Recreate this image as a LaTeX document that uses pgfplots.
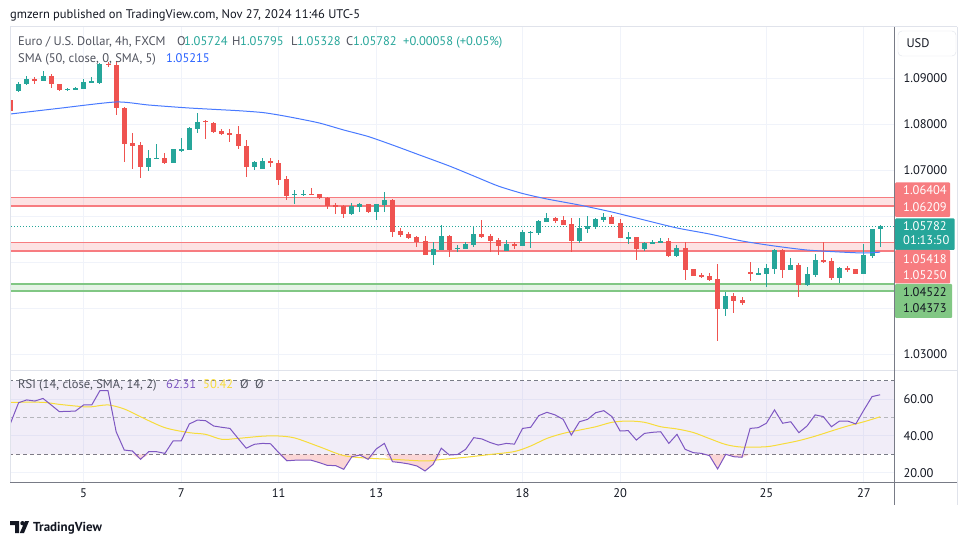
\documentclass[border=0pt]{standalone}
\usepackage{fontspec}
\setmainfont{PT Sans}
\usepackage{pgfplots}
\usepackage{pgfplotstable}
\pgfplotsset{compat=1.18}

\definecolor{tvgreen}{HTML}{26A69A}
\definecolor{tvred}{HTML}{EF5350}
\definecolor{tvblue}{HTML}{2962FF}
\definecolor{zonered}{HTML}{F77C80}
\definecolor{zonegreen}{HTML}{81C784}
\definecolor{rsipurple}{HTML}{7E57C2}
\definecolor{rsiyellow}{HTML}{F7DC3A}
\definecolor{rsired}{HTML}{F48A8A}
\definecolor{gridc}{HTML}{F0F3FA}
\definecolor{framec}{HTML}{E0E3EB}
\definecolor{axisc}{HTML}{787B86}
\definecolor{txt}{HTML}{131722}
\definecolor{txtgray}{HTML}{50535E}

\newcommand{\tvf}{\fontsize{12.5}{14}\selectfont}

\pgfplotstableread{
i up o h l c
0 0 1.08522 1.08522 1.08283 1.08283
1 1 1.08718 1.08913 1.08696 1.08870
2 1 1.08870 1.09044 1.08848 1.08979
3 0 1.08979 1.09022 1.08870 1.08935
4 1 1.08935 1.09153 1.08935 1.09044
5 0 1.09044 1.09087 1.08783 1.08870
6 0 1.08870 1.08870 1.08718 1.08740
7 1 1.08740 1.08783 1.08718 1.08761
8 1 1.08761 1.08805 1.08740 1.08783
9 1 1.08761 1.08979 1.08761 1.08913
10 1 1.08913 1.09022 1.08913 1.08935
11 1 1.08892 1.09326 1.08870 1.09305
12 0 1.09305 1.09348 1.09240 1.09283
13 0 1.09283 1.09370 1.08196 1.08348
14 0 1.08348 1.08370 1.07174 1.07566
15 0 1.07587 1.07805 1.07022 1.07522
16 0 1.07544 1.07609 1.06826 1.07066
17 1 1.07066 1.07435 1.06979 1.07261
18 1 1.07240 1.07566 1.07240 1.07261
19 0 1.07261 1.07370 1.07131 1.07153
20 1 1.07153 1.07457 1.07153 1.07457
21 1 1.07435 1.07696 1.07392 1.07457
22 1 1.07435 1.07935 1.07435 1.07913
23 1 1.07892 1.08240 1.07805 1.08044
24 0 1.08066 1.08087 1.07674 1.08044
25 0 1.08022 1.08044 1.07805 1.07827
26 0 1.07848 1.07892 1.07761 1.07783
27 0 1.07805 1.07892 1.07609 1.07761
28 0 1.07783 1.07957 1.07457 1.07522
29 0 1.07522 1.07653 1.06848 1.07066
30 1 1.07066 1.07196 1.07000 1.07174
31 1 1.07022 1.07261 1.07022 1.07196
32 0 1.07196 1.07261 1.07066 1.07153
33 0 1.07153 1.07218 1.06674 1.06783
34 0 1.06805 1.06870 1.06348 1.06435
35 1 1.06457 1.06566 1.06261 1.06479
36 1 1.06457 1.06566 1.06435 1.06479
37 0 1.06479 1.06609 1.06457 1.06457
38 0 1.06479 1.06479 1.06370 1.06391
39 0 1.06391 1.06413 1.06153 1.06218
40 0 1.06239 1.06283 1.06044 1.06196
41 0 1.06218 1.06239 1.05957 1.06044
42 1 1.06044 1.06283 1.06022 1.06218
43 1 1.06196 1.06283 1.06087 1.06261
44 0 1.06261 1.06261 1.06066 1.06087
45 1 1.06087 1.06261 1.05913 1.06261
46 1 1.06239 1.06522 1.06087 1.06348
47 0 1.06348 1.06370 1.05544 1.05653
48 0 1.05674 1.05740 1.05544 1.05587
49 0 1.05609 1.05653 1.05500 1.05522
50 0 1.05544 1.05566 1.05326 1.05435
51 0 1.05457 1.05566 1.05153 1.05153
52 1 1.05153 1.05435 1.04935 1.05283
53 1 1.05261 1.05805 1.05261 1.05566
54 0 1.05566 1.05587 1.05109 1.05261
55 1 1.05283 1.05370 1.05218 1.05305
56 1 1.05283 1.05435 1.05283 1.05392
57 1 1.05370 1.05783 1.05326 1.05609
58 0 1.05609 1.05913 1.05522 1.05544
59 0 1.05566 1.05609 1.05218 1.05457
60 0 1.05479 1.05522 1.05153 1.05348
61 1 1.05240 1.05479 1.05240 1.05392
62 0 1.05392 1.05435 1.05283 1.05348
63 1 1.05348 1.05696 1.05348 1.05653
64 1 1.05631 1.05674 1.05305 1.05653
65 1 1.05631 1.05913 1.05587 1.05892
66 1 1.05870 1.06066 1.05870 1.05957
67 0 1.05957 1.05979 1.05848 1.05892
68 0 1.05913 1.06000 1.05805 1.05805
69 0 1.05827 1.05957 1.05218 1.05457
70 1 1.05457 1.05957 1.05413 1.05740
71 1 1.05718 1.06000 1.05631 1.05783
72 1 1.05761 1.05957 1.05718 1.05935
73 1 1.05913 1.06066 1.05870 1.05979
74 0 1.05979 1.06022 1.05827 1.05827
75 0 1.05848 1.05935 1.05522 1.05522
76 1 1.05522 1.05653 1.05392 1.05544
77 0 1.05544 1.05544 1.05044 1.05283
78 1 1.05283 1.05435 1.05240 1.05413
79 1 1.05392 1.05479 1.05392 1.05435
80 1 1.05435 1.05522 1.05435 1.05457
81 0 1.05457 1.05522 1.05109 1.05131
82 1 1.05131 1.05370 1.05109 1.05305
83 0 1.05305 1.05435 1.04609 1.04826
84 0 1.04848 1.04848 1.04696 1.04696
85 0 1.04718 1.04761 1.04652 1.04674
86 0 1.04696 1.04761 1.04587 1.04609
87 0 1.04631 1.04957 1.03283 1.03979
88 1 1.03979 1.04348 1.03826 1.04261
89 0 1.04261 1.04326 1.03892 1.04152
90 0 1.04174 1.04239 1.04065 1.04109
91 0 1.04783 1.05000 1.04587 1.04761
92 1 1.04740 1.04870 1.04718 1.04761
93 1 1.04740 1.04957 1.04457 1.04870
94 1 1.04848 1.05283 1.04740 1.05261
95 0 1.05261 1.05283 1.04652 1.04826
96 1 1.04826 1.05087 1.04826 1.04935
97 0 1.04935 1.04979 1.04239 1.04500
98 1 1.04500 1.04892 1.04479 1.04740
99 1 1.04718 1.05174 1.04674 1.05044
100 0 1.05044 1.05435 1.04979 1.05000
101 0 1.05022 1.05087 1.04609 1.04652
102 1 1.04652 1.04892 1.04544 1.04870
103 0 1.04870 1.04913 1.04783 1.04848
104 0 1.04848 1.04848 1.04740 1.04740
105 1 1.04740 1.05392 1.04740 1.05153
106 1 1.05131 1.05718 1.05087 1.05718
107 1 1.05724 1.05795 1.05328 1.05782
}\candles

\pgfplotstableread{
i s
0 1.08218
6 1.08342
13 1.08479
17 1.08413
22 1.08348
28 1.08290
31 1.08250
33 1.08196
35 1.08131
38 1.08022
41 1.07870
44 1.07729
47 1.07544
50 1.07348
54 1.07087
57 1.06870
60 1.06652
63 1.06490
66 1.06370
70 1.06239
74 1.06087
78 1.05913
82 1.05740
86 1.05609
90 1.05457
94 1.05348
98 1.05261
102 1.05218
105 1.05196
107 1.05215
}\smadata

\pgfplotstableread{
i r
0 46.9
1 58.0
2 59.5
3 58.9
4 60.3
5 56.8
6 53.2
7 53.3
8 53.5
9 56.8
10 56.8
11 64.5
12 64.5
13 42.3
14 32.4
15 31.9
16 27.4
17 31.5
18 31.5
19 30.6
20 37.3
21 37.3
22 46.5
23 48.6
24 48.3
25 45.4
26 44.7
27 44.1
28 38.7
29 33.4
30 35.5
31 36.0
32 35.8
33 31.0
34 26.6
35 26.9
36 26.9
37 26.9
38 25.6
39 24.1
40 24.0
41 22.0
42 28.8
43 29.7
44 27.4
45 33.0
46 36.0
47 26.1
48 25.6
49 24.9
50 23.8
51 21.1
52 24.7
53 33.4
54 29.7
55 30.0
56 32.8
57 39.1
58 38.4
59 36.5
60 35.1
61 36.0
62 35.6
63 44.1
64 44.7
65 51.0
66 52.8
67 51.4
68 49.0
69 40.5
70 47.7
71 49.0
72 52.6
73 53.7
74 50.5
75 42.7
76 42.9
77 37.8
78 41.4
79 42.0
80 42.3
81 36.0
82 40.9
83 32.8
84 31.0
85 30.6
86 29.4
87 22.2
88 30.1
89 28.8
90 28.5
91 44.1
92 44.5
93 46.9
94 54.1
95 46.9
96 47.7
97 41.8
98 45.4
99 51.4
100 50.5
101 45.0
102 48.1
103 48.1
104 46.5
105 54.1
106 61.3
107 62.3
}\rsidata

\pgfplotstableread{
i m
0 58.2
4 58.2
6 57.1
9 55.8
10 55.8
12 56.8
14 54.6
16 50.4
19 44.5
22 41.8
24 40.9
26 38.2
28 38.7
31 39.9
33 40.0
35 38.9
38 34.2
41 29.4
44 28.0
47 27.4
51 26.5
53 27.3
56 28.5
59 30.0
62 31.6
64 34.6
66 38.7
68 41.4
70 43.2
72 45.0
74 47.4
76 48.1
78 47.4
80 45.0
82 43.8
84 41.9
86 38.6
88 35.4
90 34.0
93 34.2
95 35.7
97 37.5
99 39.9
101 42.7
103 45.4
105 47.7
107 50.4
}\rsimadata

\begin{document}
\begin{tikzpicture}
\path[use as bounding box, fill=white] (0pt,0pt) rectangle (970pt,-545pt);

% ---------------- main price pane ----------------
\begin{axis}[
  at={(10pt,-27pt)}, anchor=north west,
  scale only axis, width=884pt, height=344pt,
  xmin=-0.06, xmax=108.7, ymin=1.02631, ymax=1.10109,
  axis line style={draw=none},
  xtick={9,21,33,45,63,75,93,105}, xticklabels={},
  ytick={1.03,1.04,1.05,1.06,1.07,1.08,1.09},
  yticklabels={1.03000,,,,1.07000,1.08000,1.09000},
  yticklabel pos=right,
  yticklabel style={anchor=west, xshift=6pt, font=\tvf, color=txt},
  major tick length=0pt,
  grid=major, major grid style={draw=gridc, line width=1pt},
  clip mode=individual,
]
% zones
\addplot[draw=none, fill=zonered, fill opacity=0.22] coordinates {(-1,1.06209)(110,1.06209)(110,1.06404)(-1,1.06404)};
\addplot[zonered, line width=1.3pt] coordinates {(-1,1.06404)(110,1.06404)};
\addplot[zonered, line width=2pt] coordinates {(-1,1.06209)(110,1.06209)};
\addplot[draw=none, fill=zonered, fill opacity=0.22] coordinates {(-1,1.05250)(110,1.05250)(110,1.05418)(-1,1.05418)};
\addplot[zonered, line width=1.3pt] coordinates {(-1,1.05418)(110,1.05418)};
\addplot[zonered, line width=2pt] coordinates {(-1,1.05250)(110,1.05250)};
\addplot[draw=none, fill=zonegreen, fill opacity=0.2] coordinates {(-1,1.04373)(110,1.04373)(110,1.04522)(-1,1.04522)};
\addplot[zonegreen, line width=1.8pt] coordinates {(-1,1.04522)(110,1.04522)};
\addplot[zonegreen, line width=1.8pt] coordinates {(-1,1.04373)(110,1.04373)};
% last price line
\addplot[tvgreen, line width=1pt, dash pattern=on 1pt off 2pt] coordinates {(-1,1.05782)(110,1.05782)};
% wicks
\addplot[draw=none, mark=none, restrict expr to domain={\thisrow{up}}{0.5:1.5},
  error bars/.cd, y dir=both, y explicit, error mark=none,
  error bar style={draw=tvgreen, line width=1pt}]
  table[x=i, y expr={0.5*(\thisrow{h}+\thisrow{l})}, y error expr={0.5*(\thisrow{h}-\thisrow{l})}] {\candles};
\addplot[draw=none, mark=none, restrict expr to domain={\thisrow{up}}{-0.5:0.5},
  error bars/.cd, y dir=both, y explicit, error mark=none,
  error bar style={draw=tvred, line width=1pt}]
  table[x=i, y expr={0.5*(\thisrow{h}+\thisrow{l})}, y error expr={0.5*(\thisrow{h}-\thisrow{l})}] {\candles};
% bodies
\addplot[draw=none, mark=none, restrict expr to domain={\thisrow{up}}{0.5:1.5},
  error bars/.cd, y dir=both, y explicit, error mark=none,
  error bar style={draw=tvgreen, line width=5pt}]
  table[x=i, y expr={0.5*(\thisrow{o}+\thisrow{c})}, y error expr={0.5*abs(\thisrow{c}-\thisrow{o})}] {\candles};
\addplot[draw=none, mark=none, restrict expr to domain={\thisrow{up}}{-0.5:0.5},
  error bars/.cd, y dir=both, y explicit, error mark=none,
  error bar style={draw=tvred, line width=5pt}]
  table[x=i, y expr={0.5*(\thisrow{o}+\thisrow{c})}, y error expr={0.5*abs(\thisrow{c}-\thisrow{o})}] {\candles};
% SMA 50
\addplot[tvblue!85!white, line width=1pt, smooth, tension=0.4] table[x=i, y=s] {\smadata};
\end{axis}

% ---------------- RSI pane ----------------
\begin{axis}[
  at={(10pt,-371pt)}, anchor=north west,
  scale only axis, width=884pt, height=111.5pt,
  xmin=-0.06, xmax=108.7, ymin=14.86, ymax=75.14,
  axis line style={draw=none},
  xtick={9,21,33,45,63,75,93,105}, xticklabels={5,7,11,13,18,20,25,27},
  xticklabel style={font=\tvf, color=txt, yshift=-3pt},
  ytick={20,40,60},
  yticklabels={20.00,40.00,60.00},
  yticklabel pos=right,
  yticklabel style={anchor=west, xshift=6pt, font=\tvf, color=txt},
  major tick length=0pt,
  grid=major, major grid style={draw=gridc, line width=1pt},
  clip mode=individual,
]
\addplot[draw=none, fill=rsipurple, fill opacity=0.1] coordinates {(-1,30)(110,30)(110,70)(-1,70)};
\addplot[axisc, line width=1pt, dash pattern=on 4pt off 3pt] coordinates {(-1,70)(110,70)};
\addplot[axisc!55, line width=1pt, dash pattern=on 4pt off 3pt] coordinates {(-1,50)(110,50)};
\addplot[axisc, line width=1pt, dash pattern=on 4pt off 3pt] coordinates {(-1,30)(110,30)};
\addplot[draw=none, fill=rsired, fill opacity=0.35] table[x=i, y expr={min(\thisrow{r},30)}] {\rsidata};
\addplot[rsiyellow, line width=1pt, smooth, tension=0.5] table[x=i, y=m] {\rsimadata};
\addplot[rsipurple, line width=1pt] table[x=i, y=r] {\rsidata};
\end{axis}

% ---------------- frame ----------------
\draw[framec, line width=1pt] (10pt,-27pt) -- (957pt,-27pt);
\draw[framec, line width=1pt] (10pt,-27pt) -- (10pt,-482.5pt);
\draw[framec, line width=1pt] (957pt,-27pt) -- (957pt,-505pt);
\draw[framec, line width=1pt] (10pt,-371pt) -- (957pt,-371pt);
\draw[axisc, line width=1pt] (894pt,-27pt) -- (894pt,-505pt);
\draw[axisc, line width=1pt] (10pt,-482.5pt) -- (957pt,-482.5pt);

% ---------------- price scale labels ----------------
\draw[framec, fill=white, rounded corners=4pt] (898pt,-31pt) rectangle (956pt,-56pt);
\node[font=\tvf, color=txt, anchor=base] at (918pt,-48pt) {USD};

\fill[zonered, rounded corners=1pt] (895pt,-182.5pt) rectangle (950pt,-217pt);
\node[font=\tvf, color=white, anchor=base west, inner sep=0pt] at (903pt,-195pt) {1.06404};
\node[font=\tvf, color=white, anchor=base west, inner sep=0pt] at (903pt,-212pt) {1.06209};
\fill[tvgreen, rounded corners=1pt] (895pt,-218.5pt) rectangle (954.5pt,-250pt);
\node[font=\tvf, color=white, anchor=base west, inner sep=0pt] at (903pt,-231pt) {1.05782};
\node[font=\tvf, color=white, anchor=base west, inner sep=0pt] at (903pt,-245pt) {01:13:50};
\fill[zonered, rounded corners=1pt] (895pt,-250pt) rectangle (950pt,-283.5pt);
\node[font=\tvf, color=white, anchor=base west, inner sep=0pt] at (903pt,-263.5pt) {1.05418};
\node[font=\tvf, color=white, anchor=base west, inner sep=0pt] at (903pt,-280pt) {1.05250};
\fill[zonegreen, rounded corners=1pt] (895pt,-284pt) rectangle (952pt,-318pt);
\node[font=\tvf, color=txt, anchor=base west, inner sep=0pt] at (903pt,-297pt) {1.04522};
\node[font=\tvf, color=txt, anchor=base west, inner sep=0pt] at (903pt,-313pt) {1.04373};

% ---------------- texts ----------------
\node[font=\tvf, color=txt, anchor=base west, inner sep=0pt] at (10pt,-19pt) {gmzern published on TradingView.com, Nov 27, 2024 11:46 UTC-5};

\node[font=\tvf, color=txtgray, anchor=base west, inner sep=0pt] at (18pt,-45.7pt) {Euro / U.S. Dollar, 4h, FXCM};
\node[font=\tvf, color=txtgray, anchor=base west, inner sep=0pt] at (177pt,-45.7pt) {O};
\node[font=\tvf, color=tvgreen, anchor=base west, inner sep=0pt] at (184pt,-45.7pt) {1.05724};
\node[font=\tvf, color=txtgray, anchor=base west, inner sep=0pt] at (232pt,-45.7pt) {H};
\node[font=\tvf, color=tvgreen, anchor=base west, inner sep=0pt] at (240pt,-45.7pt) {1.05795};
\node[font=\tvf, color=txtgray, anchor=base west, inner sep=0pt] at (291pt,-45.7pt) {L};
\node[font=\tvf, color=tvgreen, anchor=base west, inner sep=0pt] at (297pt,-45.7pt) {1.05328};
\node[font=\tvf, color=txtgray, anchor=base west, inner sep=0pt] at (346pt,-45.7pt) {C};
\node[font=\tvf, color=tvgreen, anchor=base west, inner sep=0pt] at (353pt,-45.7pt) {1.05782};
\node[font=\tvf, color=tvgreen, anchor=base west, inner sep=0pt] at (403pt,-45.7pt) {+0.00058 (+0.05\%)};

\node[font=\tvf, color=txtgray, anchor=base west, inner sep=0pt] at (18pt,-62.3pt) {SMA (50, close, 0, SMA, 5)};
\node[font=\tvf, color=tvblue, anchor=base west, inner sep=0pt] at (166pt,-62.3pt) {1.05215};

\node[font=\tvf, color=txtgray, anchor=base west, inner sep=0pt] at (18pt,-389pt) {RSI (14, close, SMA, 14, 2)};
\node[font=\tvf, color=rsipurple, anchor=base west, inner sep=0pt] at (166pt,-389pt) {62.31};
\node[font=\tvf, color=rsiyellow, anchor=base west, inner sep=0pt] at (203pt,-389pt) {50.42};
\node[font=\tvf, color=txtgray, anchor=base west, inner sep=0pt] at (240pt,-389pt) {Ø};
\node[font=\tvf, color=txtgray, anchor=base west, inner sep=0pt] at (255pt,-389pt) {Ø};

% ---------------- logo ----------------
\fill[txt] (10pt,-521pt) -- (19pt,-521pt) -- (19pt,-533pt) -- (15pt,-533pt) -- (15pt,-525pt) -- (10pt,-525pt) -- cycle;
\fill[txt] (22.5pt,-523.2pt) circle (2.2pt);
\fill[txt] (19.8pt,-533pt) -- (24pt,-533pt) -- (29pt,-521pt) -- (25pt,-521pt) -- cycle;
\node[font=\fontsize{13}{15}\selectfont\bfseries, color=txt, anchor=base west, inner sep=0pt] at (33pt,-531.5pt) {TradingView};
\end{tikzpicture}
\end{document}
